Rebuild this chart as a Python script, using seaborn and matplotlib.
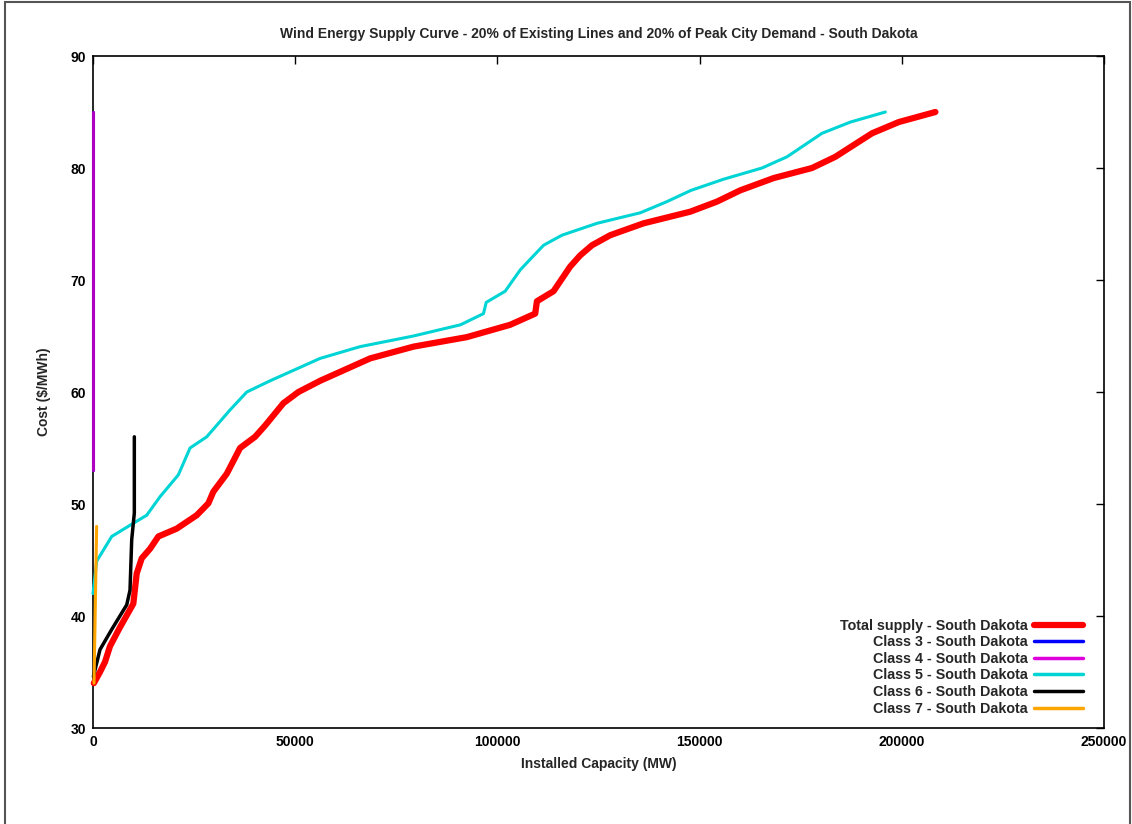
import numpy as np
import pandas as pd
import matplotlib
matplotlib.use("Agg")
import matplotlib.pyplot as plt
import seaborn as sns
from matplotlib.patches import Rectangle

sns.set_theme(style="white")
plt.rcParams['font.family'] = ['Liberation Sans', 'DejaVu Sans']
plt.rcParams['font.weight'] = 'bold'

# Curvas (capacidade instalada em MW, custo em $/MWh)
total_mw = [200, 1730, 2970, 4200, 6680, 9970, 10810, 12050, 14100, 16155, 20707,
            25655, 28525, 29762, 33077, 36368, 40079, 42550, 47080, 50790, 56160,
            62345, 68530, 79240, 92450, 103160, 109350, 109770, 113880, 118000,
            120480, 123380, 127900, 136140, 147700, 154300, 160020, 168300,
            177800, 183570, 188100, 192650, 199230, 208310]
total_cost = [34, 35, 35.9, 37.3, 39, 41.1, 43.8, 45.15, 46, 47.1, 47.8,
              49, 50.06, 51.1, 52.7, 55, 56, 57, 59, 60, 61,
              62, 63, 64.05, 64.9, 66, 67, 68.1, 69, 71.2,
              72.2, 73.1, 74, 75.06, 76.1, 77, 78, 79.1,
              80, 81, 82.05, 83.1, 84.1, 85]

class3_mw = [0, 0]
class3_cost = [53, 85]

class4_mw = [0, 0]
class4_cost = [53, 85]

class5_mw = [0, 915, 4626, 9150, 13285, 16576, 21103, 23998, 28129, 33894, 38025,
             43790, 56158, 66054, 79240, 90868, 96560, 97228, 101929, 105640,
             108114, 111405, 115957, 124616, 135326, 141932, 147852, 155935,
             165435, 171620, 176568, 180279, 187280, 195940]
class5_cost = [42, 44.9, 47.1, 48.1, 49, 50.65, 52.6, 55, 56, 58.4, 60,
               61, 63, 64.05, 65, 66, 67, 68, 69, 70.9,
               71.85, 73.1, 74, 75.06, 76, 77, 78, 79,
               80, 81, 82.2, 83.1, 84.1, 85]

class6_mw = [100, 1730, 4630, 8340, 9150, 9570, 10220, 10220]
class6_cost = [34.6, 37, 38.8, 41, 42.3, 46.8, 49.2, 56]

class7_mw = [250, 900]
class7_cost = [34, 48]

series = [
    ('Total supply - South Dakota', total_mw, total_cost, '#ff0000', 4.5),
    ('Class 3 - South Dakota', class3_mw, class3_cost, '#0000ff', 2.2),
    ('Class 4 - South Dakota', class4_mw, class4_cost, '#b000c0', 2.2),
    ('Class 5 - South Dakota', class5_mw, class5_cost, '#00d4d4', 2.2),
    ('Class 6 - South Dakota', class6_mw, class6_cost, '#000000', 2.5),
    ('Class 7 - South Dakota', class7_mw, class7_cost, '#ffa500', 2.2),
]

fig = plt.figure(figsize=(11.32, 8.24), dpi=100)
ax = fig.add_axes([93 / 1132, 1 - 728 / 824, (1104 - 93) / 1132, (728 - 56) / 824])

for i, (nome, xs, ys, cor, lw) in enumerate(series):
    df = pd.DataFrame({'MW': xs, 'Custo': ys})
    sns.lineplot(data=df, x='MW', y='Custo', ax=ax, color=cor, linewidth=lw,
                 label=nome, sort=False, estimator=None, clip_on=False,
                 zorder=3 + i * 0.1,
                 solid_capstyle='round', solid_joinstyle='round')

ax.set_xlim(0, 250000)
ax.set_ylim(30, 90)
ax.set_xticks(np.arange(0, 250001, 50000))
ax.set_yticks(np.arange(30, 91, 10))
ax.tick_params(direction='in', length=6, width=1, top=True, right=True,
               labelsize=10, colors='black', pad=5)
for lab in ax.get_xticklabels() + ax.get_yticklabels():
    lab.set_fontweight('bold')
for s in ax.spines.values():
    s.set_color('black')
    s.set_linewidth(1.2)

ax.set_title('Wind Energy Supply Curve - 20% of Existing Lines and 20% of Peak City Demand - South Dakota',
             fontsize=10, fontweight='bold', pad=13)
ax.set_xlabel('Installed Capacity (MW)', fontsize=10, fontweight='bold', labelpad=6)
ax.set_ylabel(r'Cost (\$/MWh)', fontsize=10, fontweight='bold', labelpad=14)

leg = ax.legend(loc='lower right', bbox_to_anchor=(0.9845, 0.01), frameon=False,
                markerfirst=False, fontsize=10.3, labelspacing=0.18,
                handlelength=3.4, handletextpad=0.45, borderaxespad=0)
for t in leg.get_texts():
    t.set_fontweight('bold')
for h, (_, _, c, _, lw) in zip(leg.get_lines(), series):
    h.set_linewidth(lw if lw > 4 else 2.5)
leg.get_lines()[2].set_color('#dd00dd')

# Moldura externa da figura
fig.add_artist(Rectangle((5 / 1132, -0.05), (1130 - 5) / 1132, 1.05 - 2 / 824,
                         transform=fig.transFigure, fill=False,
                         edgecolor='#555555', linewidth=1.5, clip_on=False))

fig.savefig('out.png', dpi=100)
